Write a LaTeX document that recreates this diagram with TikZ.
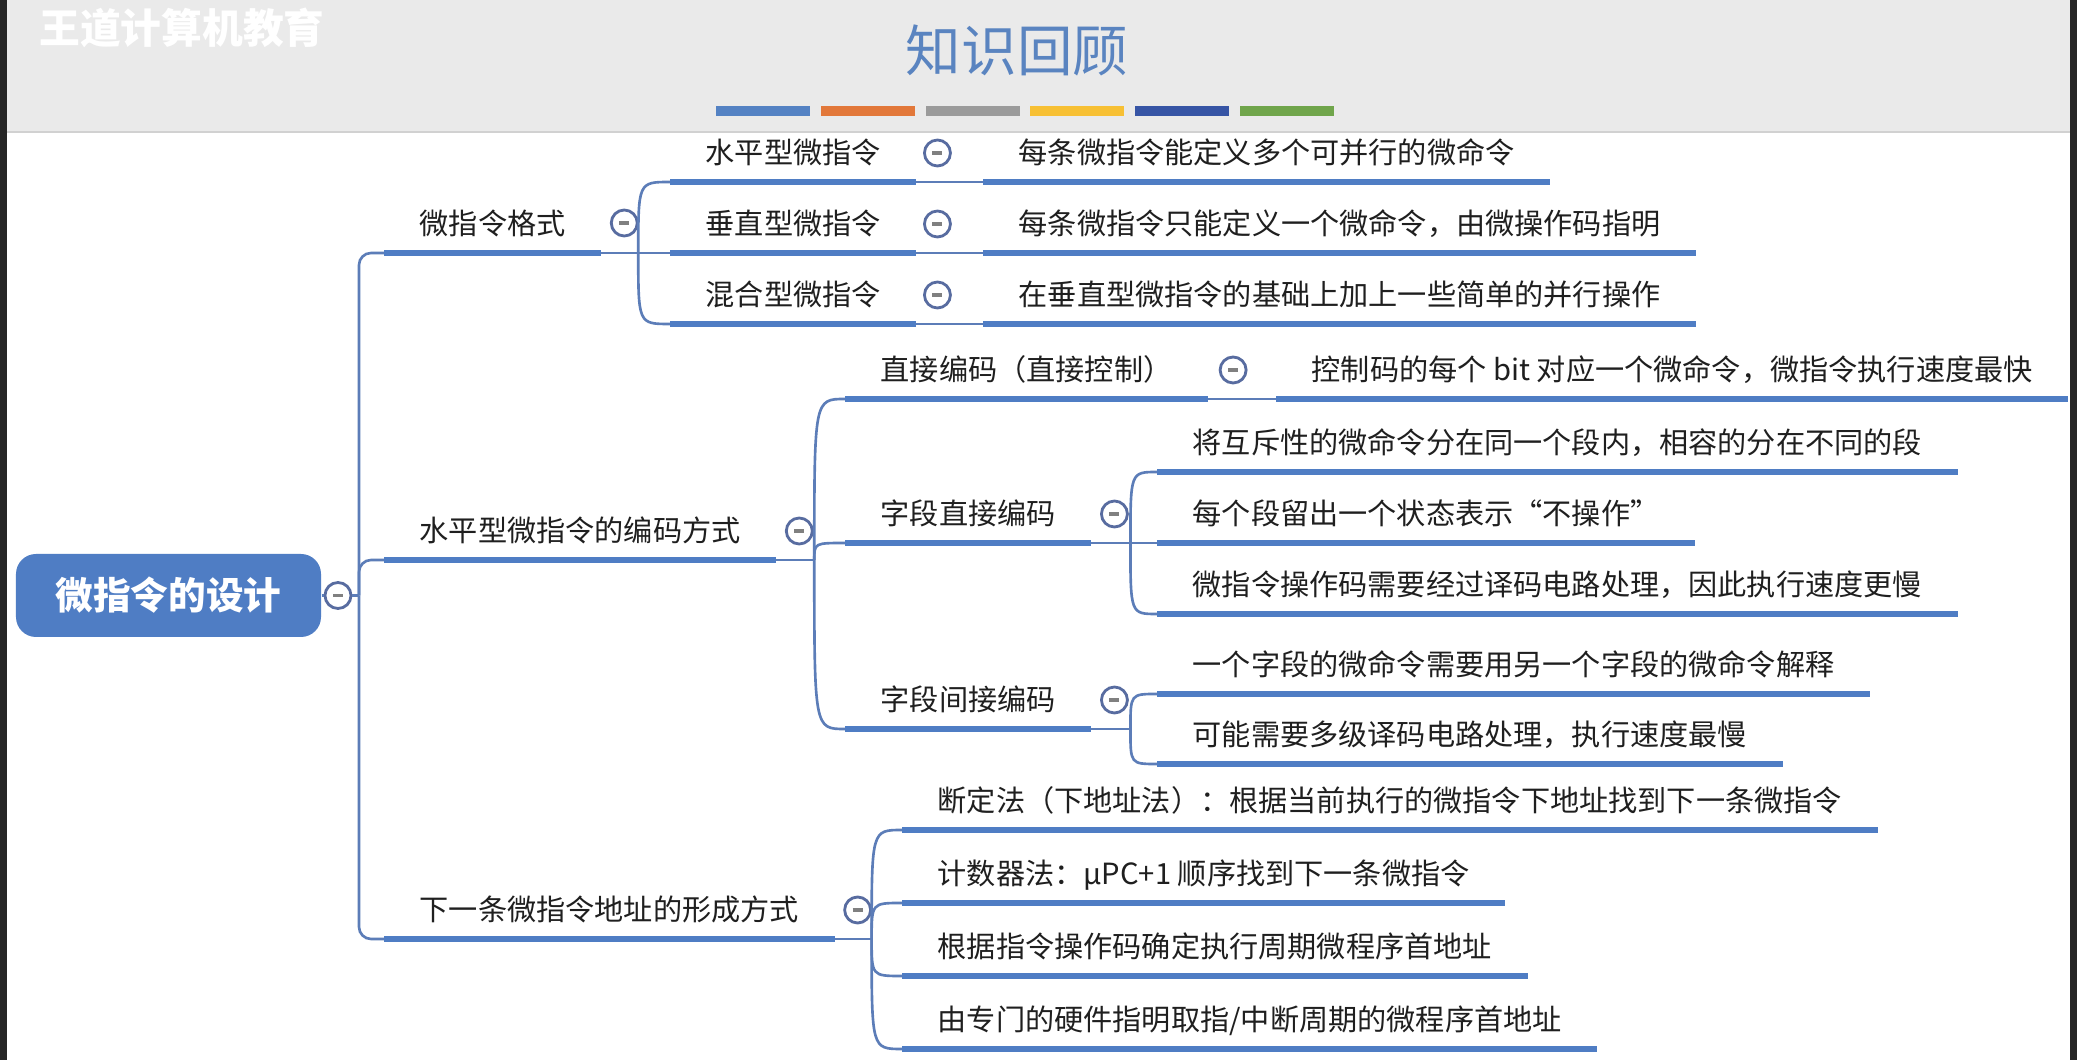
\documentclass[tikz,border=0pt]{standalone}
\usepackage{fontspec}
\newfontfamily\cjk{Noto Sans CJK SC}
\definecolor{mmBlue}{RGB}{79,125,196}
\definecolor{mmLine}{RGB}{92,125,184}
\definecolor{mmFoldLine}{RGB}{88,108,160}
\definecolor{mmTitle}{RGB}{90,132,192}
\definecolor{mmHead}{RGB}{234,234,234}
\definecolor{barBlue}{RGB}{84,130,195}
\definecolor{barOrange}{RGB}{226,120,58}
\definecolor{barGray}{RGB}{155,155,155}
\definecolor{barYellow}{RGB}{247,192,52}
\definecolor{barNavy}{RGB}{55,85,165}
\definecolor{barGreen}{RGB}{112,165,75}
\begin{document}
\begin{tikzpicture}[
    mmRoot/.style={rounded corners=0.2cm, fill=mmBlue, text=white, font=\cjk\bfseries\fontsize{10.7}{12}\selectfont, minimum width=3.05cm, minimum height=0.83cm, inner sep=0pt},
    mmTopic/.style={anchor=south west, font=\cjk\fontsize{8.3}{10}\selectfont, text=black!88, inner xsep=0.35cm, inner ysep=5.1pt, text height=8pt, text depth=0pt},
    mmBar/.style={line width=1.8pt, draw=mmBlue},
    mmLink/.style={line width=0.75pt, draw=mmLine},
    mmFold/.style={circle, draw=mmFoldLine, fill=white, line width=0.8pt, minimum size=0.26cm, inner sep=0pt,
        path picture={\draw[black!50, line width=0.9pt] ([xshift=-0.05cm]path picture bounding box.center) -- ([xshift=0.05cm]path picture bounding box.center);}}
]
\useasboundingbox (0,0) rectangle (20.77,-10.60);
\fill[white] (0,0) rectangle (20.77,-10.60);

% header
\fill[mmHead] (0,0) rectangle (20.77,-1.32);
\draw[black!18, line width=0.6pt] (0,-1.32) -- (20.77,-1.32);
\node[text=white, font=\cjk\bfseries\fontsize{11.6}{13}\selectfont] (brand) at (1.82,-0.28) {王道计算机教育};
\node[text=mmTitle, font=\cjk\fontsize{15.8}{18}\selectfont] (title) at (10.17,-0.50) {知识回顾};
\foreach \c [count=\i from 0] in {barBlue,barOrange,barGray,barYellow,barNavy,barGreen}
    \fill[\c] (7.16+1.048*\i,-1.06) rectangle ++(0.94,-0.10);
\fill[black!85] (0,0) rectangle (0.07,-10.60);
\fill[black!85] (20.70,0) rectangle (20.77,-10.60);

% root
\node[mmRoot] (root) at (1.685,-5.955) {微指令的设计};
\node[mmFold] (rootFold) at (3.38,-5.955) {};
\coordinate (rootFork) at (3.59,-5.955);
\draw[mmLink] (root.east) -- (rootFold.west);
\draw[mmLink] (rootFold.east) -- (rootFork);

% level 1
\node[mmTopic] (fmt) at (3.84,-2.53) {微指令格式};
\node[mmTopic] (hcode) at (3.84,-5.60) {水平型微指令的编码方式};
\node[mmTopic] (naddr) at (3.84,-9.39) {下一条微指令地址的形成方式};
\foreach \n in {fmt,hcode,naddr}
    \draw[mmLink, rounded corners=0.12cm] (rootFork) |- (\n.south west);

% 微指令格式
\node[mmFold] (fmtFold) at ([shift={(0.23,0.30)}]fmt.south east) {};
\coordinate (fmtFork) at ([xshift=0.37cm]fmt.south east);
\draw[mmLink] (fmt.south east) -- (fmtFork);
\node[mmTopic] (horiz) at (6.70,-1.82) {水平型微指令};
\node[mmTopic] (vert) at (6.70,-2.53) {垂直型微指令};
\node[mmTopic] (mixed) at (6.70,-3.24) {混合型微指令};
\foreach \n in {horiz,mixed}
    \draw[mmLink] (fmtFork) .. controls (fmtFork |- \n.south west) .. (\n.south west);
\draw[mmLink] (fmtFork) -- (vert.south west);

\node[mmTopic] (horizD) at (9.83,-1.82) {每条微指令能定义多个可并行的微命令};
\node[mmTopic] (vertD) at (9.83,-2.53) {每条微指令只能定义一个微命令，由微操作码指明};
\node[mmTopic] (mixedD) at (9.83,-3.24) {在垂直型微指令的基础上加上一些简单的并行操作};
\foreach \n in {horiz,vert,mixed} {
    \node[mmFold] (\n Fold) at ([shift={(0.21,0.29)}]\n.south east) {};
    \draw[mmLink] (\n.south east) -- (\n D.south west);
}

% 水平型微指令的编码方式
\node[mmFold] (hcodeFold) at ([shift={(0.23,0.29)}]hcode.south east) {};
\coordinate (hcodeFork) at ([xshift=0.38cm]hcode.south east);
\draw[mmLink] (hcode.south east) -- (hcodeFork);
\node[mmTopic] (direct) at (8.45,-3.99) {直接编码（直接控制）};
\node[mmTopic] (fdirect) at (8.45,-5.43) {字段直接编码};
\node[mmTopic] (findirect) at (8.45,-7.29) {字段间接编码};
\foreach \n in {direct,fdirect,findirect}
    \draw[mmLink] (hcodeFork) .. controls (hcodeFork |- \n.south west) .. (\n.south west);

\node[mmFold] (directFold) at ([shift={(0.25,0.29)}]direct.south east) {};
\node[mmTopic] (directD) at (12.76,-3.99) {控制码的每个 bit 对应一个微命令，微指令执行速度最快};
\draw[mmLink] (direct.south east) -- (directD.south west);

% 字段直接编码
\node[mmFold] (fdirectFold) at ([shift={(0.23,0.29)}]fdirect.south east) {};
\coordinate (fdirectFork) at ([xshift=0.39cm]fdirect.south east);
\draw[mmLink] (fdirect.south east) -- (fdirectFork);
\node[mmTopic] (fdirectA) at (11.57,-4.72) {将互斥性的微命令分在同一个段内，相容的分在不同的段};
\node[mmTopic] (fdirectB) at (11.57,-5.43) {每个段留出一个状态表示“不操作”};
\node[mmTopic] (fdirectC) at (11.57,-6.14) {微指令操作码需要经过译码电路处理，因此执行速度更慢};
\foreach \n in {fdirectA,fdirectC}
    \draw[mmLink] (fdirectFork) .. controls (fdirectFork |- \n.south west) .. (\n.south west);
\draw[mmLink] (fdirectFork) -- (fdirectB.south west);

% 字段间接编码
\node[mmFold] (findirectFold) at ([shift={(0.23,0.29)}]findirect.south east) {};
\coordinate (findirectFork) at ([xshift=0.39cm]findirect.south east);
\draw[mmLink] (findirect.south east) -- (findirectFork);
\node[mmTopic] (findirectA) at (11.57,-6.94) {一个字段的微命令需要用另一个字段的微命令解释};
\node[mmTopic] (findirectB) at (11.57,-7.64) {可能需要多级译码电路处理，执行速度最慢};
\foreach \n in {findirectA,findirectB}
    \draw[mmLink] (findirectFork) .. controls (findirectFork |- \n.south west) .. (\n.south west);

% 下一条微指令地址的形成方式
\node[mmFold] (naddrFold) at ([shift={(0.23,0.29)}]naddr.south east) {};
\coordinate (naddrFork) at ([xshift=0.37cm]naddr.south east);
\draw[mmLink] (naddr.south east) -- (naddrFork);
\node[mmTopic] (seqA) at (9.02,-8.30) {断定法（下地址法）：根据当前执行的微指令下地址找到下一条微指令};
\node[mmTopic] (seqB) at (9.02,-9.03) {计数器法：μPC+1 顺序找到下一条微指令};
\node[mmTopic] (seqC) at (9.02,-9.76) {根据指令操作码确定执行周期微程序首地址};
\node[mmTopic] (seqD) at (9.02,-10.49) {由专门的硬件指明取指/中断周期的微程序首地址};
\foreach \n in {seqA,seqB,seqC,seqD}
    \draw[mmLink] (naddrFork) .. controls (naddrFork |- \n.south west) .. (\n.south west);

% underline bars
\foreach \n in {fmt,hcode,naddr,horiz,vert,mixed,horizD,vertD,mixedD,direct,directD,fdirect,fdirectA,fdirectB,fdirectC,findirect,findirectA,findirectB,seqA,seqB,seqC,seqD}
    \draw[mmBar] (\n.south west) -- (\n.south east);
\end{tikzpicture}
\end{document}
